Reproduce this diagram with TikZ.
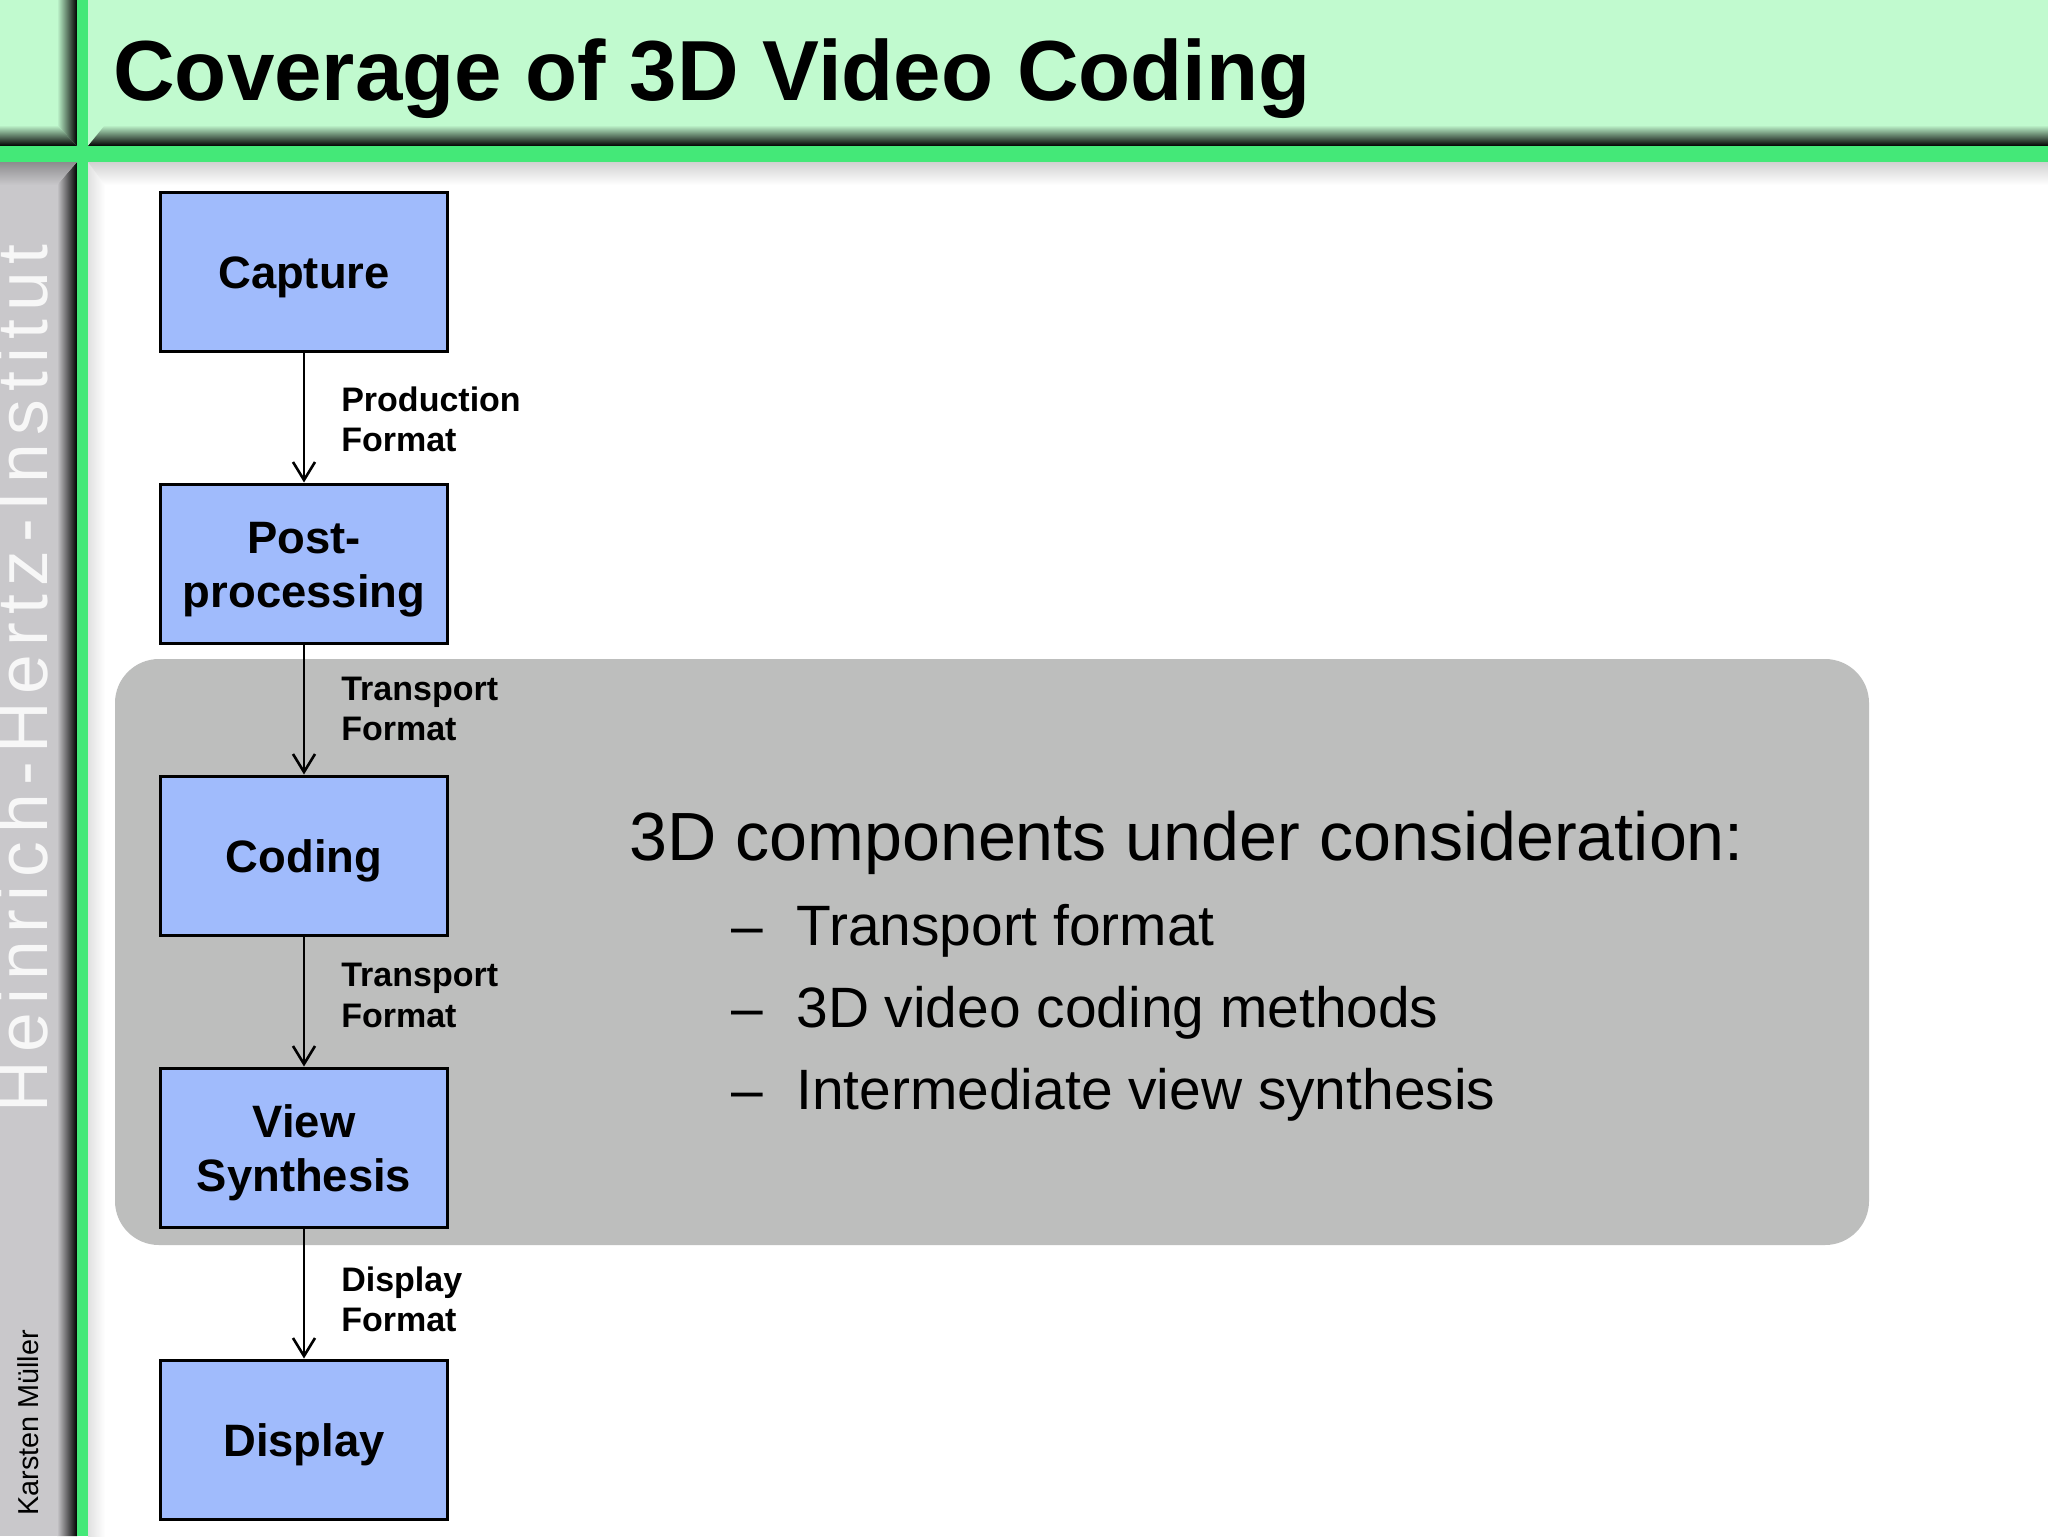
\documentclass[tikz,border=0pt]{standalone}
\usepackage{fontspec}
\setmainfont{Liberation Sans}
\usetikzlibrary{arrows.meta,positioning}
\definecolor{headgreen}{HTML}{C1FACF}
\definecolor{bargreen}{HTML}{44E878}
\definecolor{sidegray}{HTML}{C9C8CB}
\definecolor{panelgray}{HTML}{BDBEBD}
\definecolor{boxblue}{HTML}{A0BBFC}
\newcommand{\topgap}{\rule{0pt}{21.7pt}}
\tikzset{
    block/.style = {draw, rectangle, fill=boxblue, line width=1.5pt,
        minimum height=79.5pt,
        minimum width=143.5pt, align=center, inner sep=0pt,
        font=\fontsize{22.7}{27}\selectfont\bfseries},
    arrow/.style = {draw, line width=1.3pt, -{Straight Barb[length=9pt,width=11pt]}},
    fmt/.style = {align=left, inner sep=0pt, xshift=18pt,
        font=\fontsize{17}{20.2}\selectfont\bfseries},
    panel/.style = {fill=panelgray, rounded corners=22pt, inner sep=0pt,
        minimum width=877pt, minimum height=293pt},
    listtext/.style = {anchor=base west, inner sep=0pt,
        font=\fontsize{28.45}{34}\selectfont}
}
\begin{document}
\begin{tikzpicture}[auto, x=0.5pt, y=-0.5pt]
        \useasboundingbox (0,0) rectangle (2048,1536);
        % frame
        \fill [white] (0,0) rectangle (2048,1536);
        \fill [headgreen] (0,0) rectangle (2048,146);
        \fill [sidegray] (0,162) rectangle (77,1536);
        \shade [left color=white!88!black, right color=white] (88,162) rectangle (105,1536);
        \shade [top color=white!82!black, bottom color=white] (88,162) -- (105,185) -- (2048,185) -- (2048,162) -- cycle;
        \begin{scope}
        \clip (88,146) -- (105,125) -- (2048,125) -- (2048,146) -- cycle;
        \shade [top color=headgreen, bottom color=black] (88,125) rectangle (2048,146);
        \end{scope}
        \begin{scope}
        \clip (57,0) -- (57,125) -- (77,146) -- (77,0) -- cycle;
        \shade [left color=headgreen, right color=black] (57,0) rectangle (77,146);
        \end{scope}
        \begin{scope}
        \clip (0,125) -- (57,125) -- (77,146) -- (0,146) -- cycle;
        \shade [top color=headgreen, bottom color=black] (0,125) rectangle (77,146);
        \end{scope}
        \begin{scope}
        \clip (57,1536) -- (57,185) -- (77,162) -- (77,1536) -- cycle;
        \shade [left color=sidegray, right color=black] (57,162) rectangle (77,1536);
        \end{scope}
        \begin{scope}
        \clip (0,162) -- (77,162) -- (57,185) -- (0,185) -- cycle;
        \shade [top color=sidegray!70!black, bottom color=sidegray] (0,162) rectangle (77,185);
        \end{scope}
        \fill [bargreen] (77,0) rectangle (88,1536);
        \fill [bargreen] (0,146) rectangle (2048,162);
        % side texts
        \node [rotate=90, anchor=base west, inner sep=0pt, text=white!85!sidegray,
            font=\fontsize{35.7}{40}\selectfont\addfontfeature{LetterSpace=11.3}] (inst) at (47,1112.5) {Heinrich-Hertz-Institut};
        \node [rotate=90, anchor=base west, inner sep=0pt,
            font=\fontsize{14.4}{18}\selectfont] (author) at (39,1516) {Karsten Müller};
        % title
        \node [anchor=base west, inner sep=0pt,
            font=\fontsize{42.65}{50}\selectfont\bfseries] (title) at (113,100) {Coverage of 3D Video Coding};
        % chain
        \node [panel] (grey) at (992,952) {};
        \node [block] (capture) at (304,271.5) {\topgap Capture};
        \node [block, below of=capture, node distance=146pt] (post) {\topgap Post-\\processing};
        \node [block, below of=post, node distance=146pt] (coding) {\topgap Coding};
        \node [block, below of=coding, node distance=146pt] (view) {\topgap View\\Synthesis};
        \node [block, below of=view, node distance=146pt] (display) {\topgap Display};
        \draw [arrow] (capture) -- node [fmt, yshift=-1pt] {Production\\Format} (post);
        \draw [arrow] (post) -- node [fmt, yshift=0.4pt] {Transport\\Format} (coding);
        \draw [arrow] (coding) -- node [fmt, yshift=3pt] {Transport\\Format} (view);
        \draw [arrow] (view) -- node [fmt, yshift=-3pt] {Display\\Format} (display);
        % panel text
        \node [anchor=base west, inner sep=0pt, font=\fontsize{34.1}{40}\selectfont] (head) at (629,860) {3D components under consideration:};
        \node [listtext] (d1) at (731,945) {--};
        \node [listtext] (l1) at (796,945) {Transport format};
        \node [listtext] (d2) at (731,1027) {--};
        \node [listtext] (l2) at (796,1027) {3D video coding methods};
        \node [listtext] (d3) at (731,1109) {--};
        \node [listtext] (l3) at (796,1109) {Intermediate view synthesis};
\end{tikzpicture}
\end{document}
